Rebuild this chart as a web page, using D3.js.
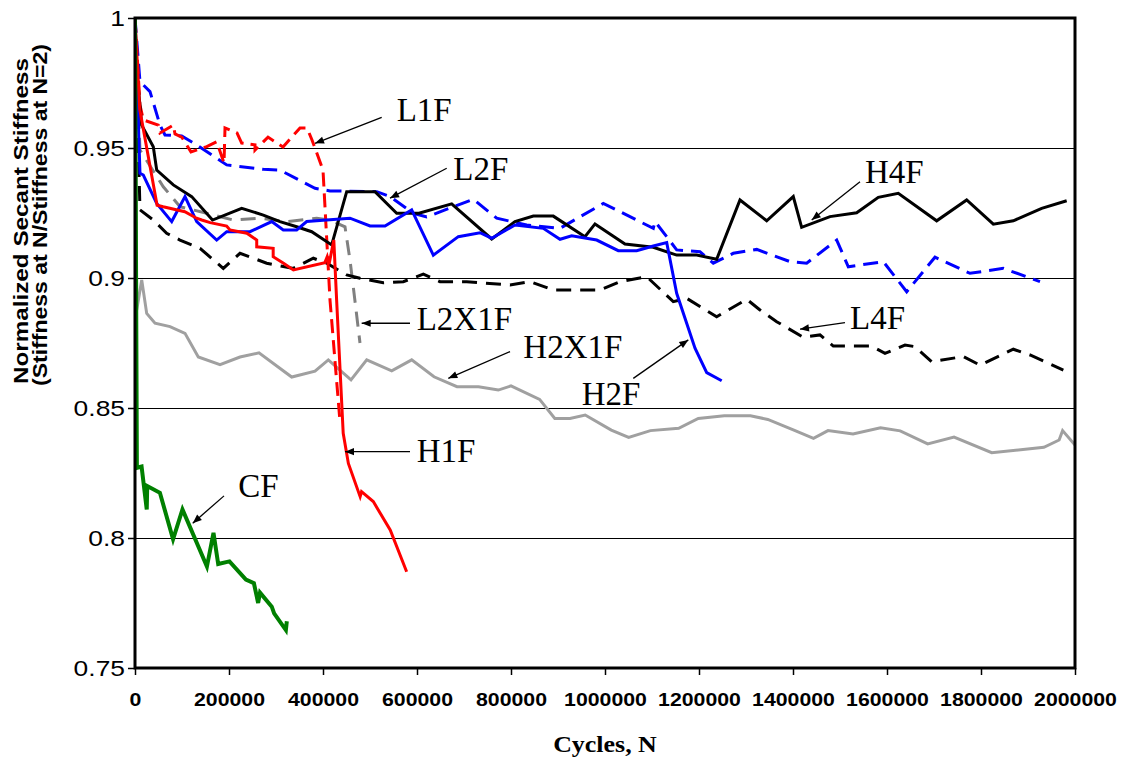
<!DOCTYPE html>
<html>
<head>
<meta charset="UTF-8">
<script src="https://d3js.org/d3.v7.min.js"></script>
<style>
body { margin: 0; background: #fff; }
</style>
</head>
<body>
<svg></svg>
<script>
// each point: [cycles N, stiffness at N / stiffness at N=2]
let l1fData = [[2,1.0],[10600,0.9665],[17700,0.9608],[49600,0.9588],[53200,0.9558],[81500,0.9588],[85100,0.9554],[99400,0.9542],[119100,0.9485],[152600,0.9505],[173800,0.9524],[189400,0.9442],[191500,0.9577],[217000,0.9558],[227000,0.9519],[255300,0.9512],[255300,0.9492],[283000,0.9542],[302100,0.9519],[314900,0.9504],[351100,0.9577],[366000,0.9577],[376600,0.9531],[400000,0.9415],[414900,0.8915],[436200,0.8446]];
let l2fData = [[2,1.0],[10600,0.9755],[31900,0.9717],[53200,0.9588],[63800,0.955],[99400,0.9546],[131300,0.9512],[195100,0.9435],[273000,0.9418],[308500,0.9415],[383000,0.9345],[414900,0.9335],[514300,0.9332],[542600,0.9313],[592100,0.9249],[620600,0.9235],[719800,0.9303],[769600,0.923],[833400,0.9204],[904300,0.9191],[996400,0.9287],[1102800,0.9191],[1106400,0.9217],[1131300,0.9159],[1152500,0.9108],[1202100,0.9101],[1230400,0.9057],[1273000,0.9095],[1322800,0.911],[1393600,0.9063],[1429100,0.9057],[1493000,0.9146],[1517700,0.9043],[1592100,0.9063],[1641900,0.8947],[1702100,0.908],[1776600,0.9018],[1847500,0.9037],[1925500,0.8986]];
let h4fData = [[2,1.0],[3600,0.98],[14300,0.9588],[38900,0.9505],[46200,0.9415],[81500,0.9358],[120600,0.9313],[164900,0.9223],[227000,0.9268],[273000,0.9242],[308500,0.9217],[344000,0.9197],[376000,0.9178],[418500,0.9127],[450400,0.9332],[510600,0.9332],[556800,0.9249],[604300,0.9249],[673800,0.9285],[758900,0.915],[808500,0.9217],[847500,0.9238],[890000,0.9238],[957400,0.9159],[978700,0.9208],[1042500,0.9131],[1102800,0.9118],[1152500,0.9088],[1195100,0.9088],[1237600,0.9072],[1287200,0.93],[1344000,0.922],[1400600,0.9313],[1418400,0.9195],[1478700,0.9236],[1535500,0.9251],[1581500,0.931],[1624000,0.9326],[1705700,0.922],[1769500,0.93],[1826200,0.9207],[1868800,0.922],[1929100,0.9268],[1982300,0.9297]];
let l2x1fData = [[2,1.0],[10600,0.9492],[60200,0.9351],[95700,0.9274],[152600,0.9249],[209100,0.9223],[266000,0.923],[322800,0.9217],[386600,0.923],[414900,0.9223],[446800,0.9197],[457400,0.9069],[464500,0.8965],[478700,0.875]];
let h2x1fData = [[2,1.0],[3600,0.8877],[14300,0.8992],[24900,0.8864],[42600,0.8826],[74500,0.8813],[106400,0.8787],[134700,0.8696],[180900,0.8667],[223400,0.8696],[263800,0.8712],[333400,0.8619],[383000,0.8642],[411300,0.8685],[459600,0.8608],[493000,0.8685],[546200,0.8643],[588700,0.8685],[636200,0.862],[685100,0.8582],[730900,0.8582],[773000,0.8569],[800000,0.8585],[860900,0.8533],[893200,0.846],[925500,0.846],[957900,0.8473],[1013400,0.8415],[1050400,0.8387],[1096600,0.8413],[1156800,0.8422],[1198500,0.846],[1253800,0.847],[1309400,0.847],[1346400,0.8456],[1401900,0.8415],[1443600,0.8383],[1474500,0.8413],[1527700,0.84],[1586200,0.8424],[1628100,0.8412],[1686600,0.8362],[1742600,0.8388],[1822800,0.8328],[1933800,0.8349],[1966200,0.8377],[1973600,0.8413],[2000000,0.8358]];
let l4fData = [[2,1.0],[10600,0.9262],[38900,0.9223],[67400,0.9172],[95700,0.9146],[138300,0.9114],[187900,0.9037],[223400,0.9095],[280200,0.9057],[336800,0.9037],[379400,0.9076],[407900,0.9057],[450400,0.9012],[478700,0.8999],[528300,0.8982],[570900,0.8986],[613400,0.9015],[648900,0.8986],[705700,0.8986],[797900,0.8973],[840400,0.8986],[890000,0.8954],[989400,0.8954],[1031900,0.8986],[1088700,0.9005],[1145300,0.8909],[1173800,0.8922],[1237600,0.8851],[1301500,0.8918],[1329800,0.8877],[1365300,0.8832],[1421900,0.8772],[1425500,0.8774],[1457400,0.8781],[1485700,0.8738],[1567400,0.8738],[1595700,0.871],[1638300,0.8742],[1659600,0.8736],[1695100,0.8678],[1762400,0.8698],[1797900,0.8665],[1868800,0.8726],[1904300,0.8704],[1975200,0.8646]];
let h2fData = [[2,1.0],[10600,0.9403],[17700,0.9396],[46200,0.9287],[78100,0.9217],[106400,0.9313],[131300,0.9217],[173800,0.9146],[195100,0.9178],[244700,0.9178],[290900,0.9217],[315500,0.9185],[344000,0.9185],[365300,0.9217],[457400,0.923],[500000,0.92],[531900,0.92],[588700,0.9262],[634700,0.9088],[687900,0.9159],[734000,0.9174],[758900,0.9153],[808500,0.9204],[868700,0.9191],[904300,0.9149],[929100,0.9162],[982300,0.9146],[1028300,0.9105],[1067400,0.9105],[1102800,0.9123],[1131300,0.9136],[1152500,0.8941],[1191500,0.873],[1216400,0.8636],[1248300,0.8605]];
let h1fData = [[2,1.0],[10000,0.965],[47000,0.928],[60000,0.9274],[106000,0.9255],[131000,0.923],[142000,0.9223],[160000,0.9213],[195000,0.920],[202000,0.9185],[238000,0.9172],[259000,0.9146],[259000,0.912],[294000,0.9114],[294000,0.9082],[316000,0.9057],[337000,0.9031],[404000,0.9059],[409000,0.9082],[413000,0.9054],[423000,0.9146],[429000,0.8915],[443000,0.8403],[454000,0.8287],[479000,0.8159],[482000,0.8178],[507000,0.814],[543000,0.8031],[578000,0.787]];
let cfData = [[2,1.0],[4000,0.827],[14000,0.8275],[25000,0.811],[26000,0.820],[53000,0.8174],[81000,0.7995],[101000,0.811],[153000,0.789],[167000,0.802],[177000,0.790],[201000,0.791],[236000,0.784],[253000,0.7826],[262000,0.775],[266000,0.779],[291000,0.7736],[296000,0.771],[321000,0.7646],[323000,0.768]];

let xTicks = [0,200000,400000,600000,800000,1000000,1200000,1400000,1600000,1800000,2000000];
let yTicks = [0.75,0.8,0.85,0.9,0.95,1];
let gridValues = [0.8,0.85,0.9,0.95];

// annotation labels: text, label position, arrow start, arrow tip (data units)
let labelNames = ["L1F","L2F","H4F","L2X1F","H2X1F","H2F","L4F","H1F","CF"];
let labelPos = [[556800,0.9605],[677200,0.9377],[1553200,0.9364],[599400,0.8800],[826200,0.8691],[950400,0.8512],[1521300,0.8803],[599400,0.8293],[219800,0.8157]];
let arrowFrom = [[524900,0.9618],[663200,0.9422],[1542600,0.9370],[585100,0.8826],[797900,0.8717],[1060200,0.8614],[1510600,0.8828],[585100,0.8332],[189400,0.8162]];
let arrowTo = [[383000,0.9518],[542600,0.9307],[1439800,0.9223],[482300,0.8826],[666600,0.8614],[1177200,0.8762],[1414900,0.8803],[446800,0.8332],[122800,0.8057]];

let width = 1123, height = 761;
let svg = d3.select("svg").attr("width", width).attr("height", height);

let x = d3.scaleLinear().domain([0, 2000000]).range([135, 1075]);
let y = d3.scaleLinear().domain([0.75, 1]).range([668, 18]);

let sansFont = "'Liberation Sans', Arial, sans-serif";
let serifFont = "'Liberation Serif', 'Times New Roman', serif";

// widen Arial-like text to match the stretched look of the original
function stretch(sel, k) {
  sel.each(function() {
    let w = this.getComputedTextLength();
    d3.select(this).attr("textLength", w * k).attr("lengthAdjust", "spacingAndGlyphs");
  });
}

svg.append("defs").append("clipPath").attr("id", "plotClip")
  .append("rect")
  .attr("x", x(0)).attr("y", y(1))
  .attr("width", x(2000000) - x(0)).attr("height", y(0.75) - y(1));

svg.select("defs").append("marker")
  .attr("id", "arrowhead")
  .attr("viewBox", "0 -5 10 10")
  .attr("refX", 10).attr("refY", 0)
  .attr("markerUnits", "userSpaceOnUse")
  .attr("markerWidth", 11).attr("markerHeight", 9)
  .attr("orient", "auto")
  .append("path")
  .attr("d", "M0,-4L10,0L0,4Z")
  .attr("fill", "black");

// grid
svg.append("g").selectAll("line")
  .data(gridValues)
  .enter().append("line")
  .attr("x1", x(0)).attr("x2", x(2000000))
  .attr("y1", d => y(d) + 0.5).attr("y2", d => y(d) + 0.5)
  .attr("stroke", "#000").attr("stroke-width", 1)
  .attr("shape-rendering", "crispEdges");

// axes
let gy = svg.append("g").attr("transform", `translate(${x(0)},0)`)
  .call(d3.axisLeft(y).tickValues(yTicks).tickSize(7).tickPadding(3).tickFormat(d => String(d)));
gy.select(".domain").remove();
gy.attr("font-family", sansFont).attr("font-size", 22);
gy.selectAll("line").attr("stroke", "#000").attr("stroke-width", 1.5);
gy.selectAll("text").attr("fill", "#000");
stretch(gy.selectAll("text"), 1.2);

let gx = svg.append("g").attr("transform", `translate(0,${y(0.75)})`)
  .call(d3.axisBottom(x).tickValues(xTicks).tickSize(7).tickPadding(18).tickFormat(d3.format("d")));
gx.select(".domain").remove();
gx.attr("font-family", sansFont).attr("font-size", 19).attr("font-weight", "bold");
gx.selectAll("line").attr("stroke", "#000").attr("stroke-width", 1.5);
gx.selectAll("text").attr("fill", "#000");
stretch(gx.selectAll("text"), 1.12);

// series, drawn back to front
let series = [
  {data: h2x1fData, color: "#a0a0a0", width: 3, dash: null},
  {data: l2x1fData, color: "#808080", width: 3, dash: "15,9"},
  {data: l4fData, color: "#000000", width: 3, dash: "15,9"},
  {data: l2fData, color: "#0000ff", width: 3, dash: "15,8"},
  {data: l1fData, color: "#ff0000", width: 3, dash: "14,7"},
  {data: h4fData, color: "#000000", width: 3, dash: null},
  {data: h2fData, color: "#0000ff", width: 3, dash: null},
  {data: h1fData, color: "#ff0000", width: 3, dash: null},
  {data: cfData, color: "#008000", width: 4, dash: null}
];

let line = d3.line().x(d => x(d[0])).y(d => y(d[1]));

svg.append("g").attr("clip-path", "url(#plotClip)")
  .selectAll("path")
  .data(series)
  .enter().append("path")
  .attr("d", d => line(d.data))
  .attr("fill", "none")
  .attr("stroke", d => d.color)
  .attr("stroke-width", d => d.width)
  .attr("stroke-dasharray", d => d.dash)
  .attr("stroke-linejoin", "miter");

// frame
svg.append("rect")
  .attr("x", x(0)).attr("y", y(1))
  .attr("width", x(2000000) - x(0)).attr("height", y(0.75) - y(1))
  .attr("fill", "none").attr("stroke", "#000").attr("stroke-width", 3);

// annotations
let ann = svg.append("g");
ann.selectAll("line")
  .data(labelNames)
  .enter().append("line")
  .attr("x1", (d, i) => x(arrowFrom[i][0])).attr("y1", (d, i) => y(arrowFrom[i][1]))
  .attr("x2", (d, i) => x(arrowTo[i][0])).attr("y2", (d, i) => y(arrowTo[i][1]))
  .attr("stroke", "#000").attr("stroke-width", 1.3)
  .attr("marker-end", "url(#arrowhead)");
ann.selectAll("text")
  .data(labelNames)
  .enter().append("text")
  .attr("x", (d, i) => x(labelPos[i][0]))
  .attr("y", (d, i) => y(labelPos[i][1]))
  .attr("font-family", serifFont)
  .attr("font-size", 33)
  .attr("fill", "#000")
  .text(d => d);

// axis titles
svg.append("text")
  .attr("transform", "translate(28,221) rotate(-90)")
  .attr("text-anchor", "middle")
  .attr("font-family", sansFont).attr("font-size", 20).attr("font-weight", "bold")
  .attr("textLength", 326).attr("lengthAdjust", "spacingAndGlyphs")
  .text("Normalized Secant Stiffness");
svg.append("text")
  .attr("transform", "translate(47,215) rotate(-90)")
  .attr("text-anchor", "middle")
  .attr("font-family", sansFont).attr("font-size", 20).attr("font-weight", "bold")
  .attr("textLength", 342).attr("lengthAdjust", "spacingAndGlyphs")
  .text("(Stiffness at N/Stiffness at N=2)");

let xTitle = svg.append("text")
  .attr("x", 605).attr("y", 752)
  .attr("text-anchor", "middle")
  .attr("font-family", serifFont).attr("font-size", 24).attr("font-weight", "bold")
  .text("Cycles, N");
stretch(xTitle, 1.08);
</script>
</body>
</html>
